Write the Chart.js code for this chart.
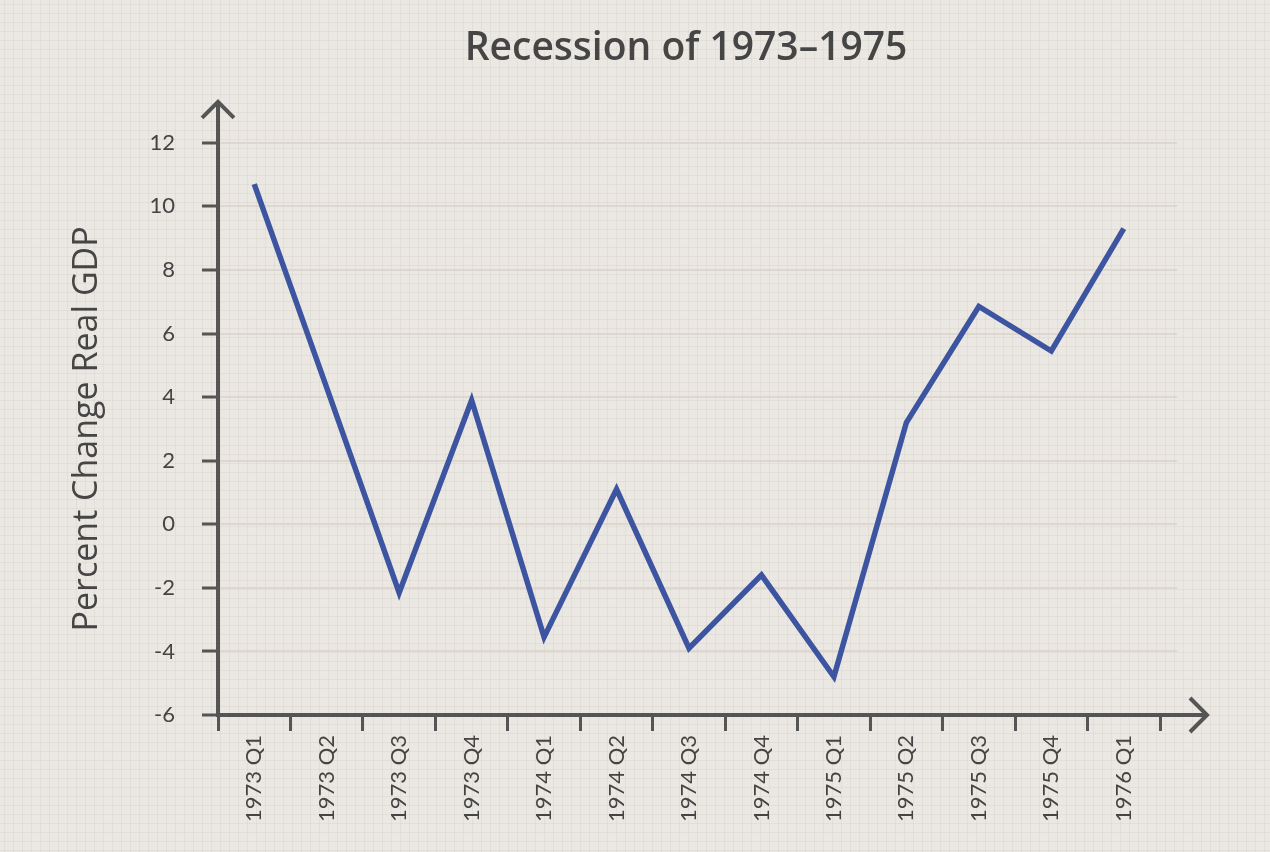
<!DOCTYPE html>
<html>
<head>
<meta charset="utf-8">
<script src="https://cdn.jsdelivr.net/npm/chart.js@4/dist/chart.umd.min.js"></script>
<style>
  html, body { margin: 0; padding: 0; overflow: hidden; background: #ebe8e3; width: 1270px; height: 852px; }
  #wrap { position: absolute; left: 0; top: 0; width: 1372px; height: 852px; }
  canvas { display: block; }
</style>
</head>
<body>
<div id="wrap"><canvas id="c" width="1372" height="852"></canvas></div>
<script>
// ---- Data ----
const categories = ["1973 Q1", "1973 Q2", "1973 Q3", "1973 Q4", "1974 Q1", "1974 Q2", "1974 Q3", "1974 Q4", "1975 Q1", "1975 Q2", "1975 Q3", "1975 Q4", "1976 Q1"];
const gdpChange = [10.7, 4.3, -2.15, 3.9, -3.55, 1.1, -3.9, -1.6, -4.8, 3.2, 6.85, 5.45, 9.3];
const yTickValues = [-6, -4, -2, 0, 2, 4, 6, 8, 10, 12];
const chartTitle = "Recession of 1973\u20131975";
const yAxisTitle = "Percent Change Real GDP";

const AXIS = '#555555';
const GRID = '#ddd7cf';

const paperPlugin = {
  id: 'paper',
  beforeDraw(chart) {
    const ctx = chart.ctx;
    ctx.save();
    ctx.fillStyle = '#ebe8e3';
    ctx.fillRect(0, 0, chart.width, chart.height);
    ctx.strokeStyle = 'rgba(205,198,188,0.28)';
    ctx.lineWidth = 1;
    ctx.beginPath();
    for (let x = 4.5; x < chart.width; x += 9) { ctx.moveTo(x, 0); ctx.lineTo(x, chart.height); }
    for (let y = 4.5; y < chart.height; y += 9) { ctx.moveTo(0, y); ctx.lineTo(chart.width, y); }
    ctx.stroke();
    ctx.restore();
  }
};

const arrowPlugin = {
  id: 'arrows',
  beforeDatasetsDraw(chart) {
    const ctx = chart.ctx, a = chart.chartArea, ys = chart.scales.y;
    ctx.save();
    ctx.strokeStyle = GRID;
    ctx.lineWidth = 2;
    ctx.beginPath();
    ys.ticks.forEach(t => {
      if (t.value === -6) return;
      const y = Math.round(ys.getPixelForValue(t.value));
      ctx.moveTo(a.right, y); ctx.lineTo(a.right + 17, y);
    });
    ctx.stroke();
    ctx.restore();
  },
  afterDraw(chart) {
    const ctx = chart.ctx, a = chart.chartArea;
    ctx.save();
    ctx.strokeStyle = AXIS;
    ctx.lineWidth = 4;
    ctx.lineCap = 'butt';
    ctx.lineJoin = 'miter';
    const yx = a.left, topY = a.top - 41;
    ctx.beginPath();
    ctx.moveTo(yx, a.top + 2); ctx.lineTo(yx, topY);
    ctx.stroke();
    ctx.beginPath();
    ctx.moveTo(yx - 16, topY + 16); ctx.lineTo(yx, topY); ctx.lineTo(yx + 16, topY + 16);
    ctx.stroke();
    const xy = a.bottom, endX = a.right + 47;
    ctx.beginPath();
    ctx.moveTo(a.right - 2, xy); ctx.lineTo(endX, xy);
    ctx.stroke();
    ctx.beginPath();
    ctx.moveTo(endX - 17, xy - 17); ctx.lineTo(endX, xy); ctx.lineTo(endX - 17, xy + 17);
    ctx.stroke();
    ctx.restore();
  }
};

new Chart(document.getElementById('c'), {
  type: 'line',
  data: {
    labels: categories,
    datasets: [{
      label: yAxisTitle,
      data: gdpChange,
      borderColor: '#3d55a0',
      backgroundColor: '#3d55a0',
      borderWidth: 5.5,
      pointRadius: 0,
      pointHoverRadius: 0,
      tension: 0,
      fill: false,
      borderJoinStyle: 'miter',
      borderCapStyle: 'butt'
    }]
  },
  options: {
    responsive: false,
    animation: false,
    devicePixelRatio: 1,
    layout: { padding: 0 },
    plugins: {
      legend: { display: false },
      tooltip: { enabled: false },
      title: {
        display: true,
        text: chartTitle,
        color: '#454545',
        font: { family: 'Open Sans', size: 39, weight: '600' },
        padding: { top: 25, bottom: 71 }
      }
    },
    scales: {
      x: {
        type: 'category',
        offset: true,
        grid: { display: true, offset: true, drawOnChartArea: false, drawTicks: true, tickLength: 16, tickWidth: 3, tickColor: AXIS },
        border: { display: true, color: AXIS, width: 4 },
        ticks: {
          minRotation: 90, maxRotation: 90, autoSkip: false,
          color: '#444444', padding: 4,
          font: { family: 'Lato', size: 22 }
        },
        afterFit(scale) { scale.height = 137; }
      },
      y: {
        type: 'linear',
        min: -6, max: 12,
        afterBuildTicks(scale) { scale.ticks = yTickValues.map(v => ({ value: v })); },
        grid: { color: GRID, lineWidth: 2, drawTicks: true, tickLength: 16, tickWidth: 3, tickColor: AXIS },
        border: { display: true, color: AXIS, width: 4 },
        ticks: {
          color: '#444444', padding: 27,
          font: { family: 'Lato', size: 22 }
        },
        title: {
          display: true,
          text: yAxisTitle,
          color: '#454545',
          font: { family: 'Open Sans', size: 34, weight: '500' },
          padding: { top: 67, bottom: 0 }
        },
        afterFit(scale) { scale.width = 218; }
      },
      spacer: {
        type: 'linear',
        position: 'right',
        min: 0, max: 1,
        grid: { display: false },
        border: { display: false },
        ticks: { display: false },
        afterFit(scale) { scale.width = 212; }
      }
    }
  },
  plugins: [paperPlugin, arrowPlugin]
});
</script>
</body>
</html>
